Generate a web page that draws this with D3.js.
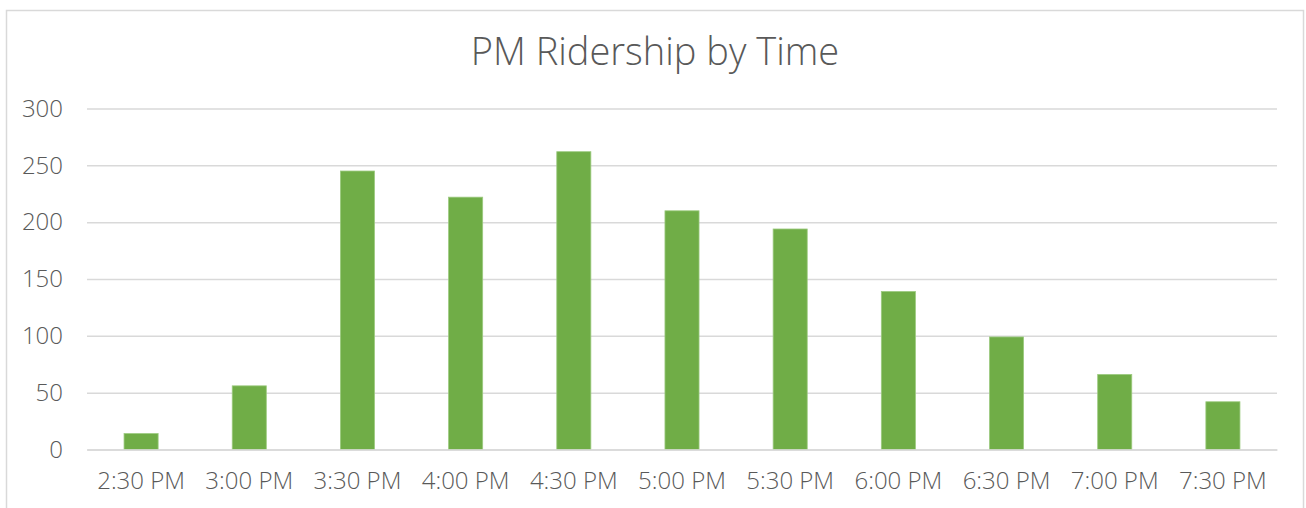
<!DOCTYPE html>
<meta charset="utf-8">
<script src="https://d3js.org/d3.v7.min.js"></script>
<style>
  body { margin: 0; background: #fff; }
  text { font-family: "Open Sans", sans-serif; fill: #595959; }
</style>
<div id="my_dataviz"></div>
<script>

// data
var times = ["2:30 PM", "3:00 PM", "3:30 PM", "4:00 PM", "4:30 PM", "5:00 PM",
             "5:30 PM", "6:00 PM", "6:30 PM", "7:00 PM", "7:30 PM"];
var riders = [14, 56, 245, 222, 262, 210, 194, 139, 99, 66, 42];
var yTicks = [0, 50, 100, 150, 200, 250, 300];

var W = 1306, H = 508;
var margin = {top: 108.5, right: 29, bottom: 58.5, left: 87},
    width = W - margin.left - margin.right,
    height = H - margin.top - margin.bottom;

var root = d3.select("#my_dataviz")
  .append("svg")
    .attr("width", W)
    .attr("height", H);

// chart frame
root.append("rect")
  .attr("x", 6.5).attr("y", 10.5)
  .attr("width", 1297).attr("height", 520)
  .attr("fill", "none")
  .attr("stroke", "#d9d9d9")
  .attr("stroke-width", 1.5);

root.append("text")
  .attr("x", 655).attr("y", 65)
  .attr("text-anchor", "middle")
  .style("font-size", "38px")
  .style("font-weight", 300)
  .text("PM Ridership by Time");

var svg = root.append("g")
  .attr("transform", "translate(" + margin.left + "," + margin.top + ")");

var x = d3.scaleBand()
  .domain(times)
  .range([0, width])
  .paddingInner(0.685)
  .paddingOuter(0.3425);

var y = d3.scaleLinear()
  .domain([0, 300])
  .range([height, 0]);

// gridlines + y labels
var yAxis = svg.append("g")
  .call(d3.axisLeft(y).tickValues(yTicks).tickSize(-width).tickPadding(24));
yAxis.select(".domain").remove();
yAxis.selectAll("line").attr("stroke", "#d9d9d9").attr("stroke-width", 1.5);
yAxis.selectAll("text").style("font-size", "24px").style("font-weight", 300).attr("fill", "#595959");

// bars
svg.selectAll("rect")
  .data(riders)
  .enter()
  .append("rect")
    .attr("x", function(d, i) { return x(times[i]); })
    .attr("y", function(d) { return y(d); })
    .attr("width", x.bandwidth())
    .attr("height", function(d) { return height - y(d); })
    .attr("fill", "#70ad47")
    .attr("stroke", "#9cca7f")
    .attr("stroke-width", 0.8);

// x axis
var xAxis = svg.append("g")
  .attr("transform", "translate(0," + height + ")")
  .call(d3.axisBottom(x).tickSize(0).tickPadding(22));
xAxis.select(".domain").attr("stroke", "#d9d9d9").attr("stroke-width", 1.5);
xAxis.selectAll("text").style("font-size", "24px").style("font-weight", 300).attr("fill", "#595959");

</script>
